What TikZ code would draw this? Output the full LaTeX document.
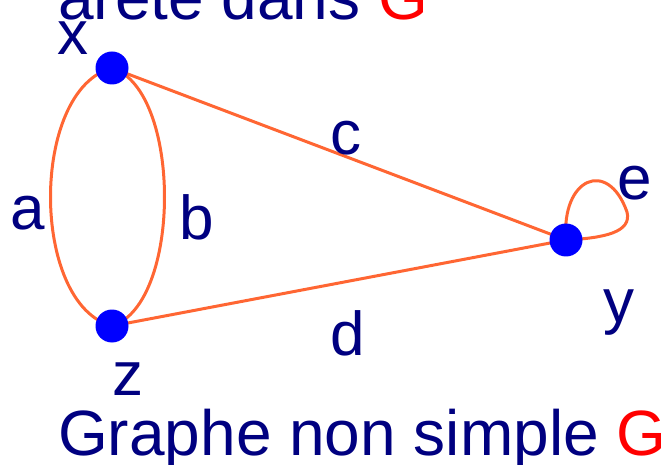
\documentclass[tikz,border=0pt]{standalone}
\usepackage{fontspec}
\setmainfont{Liberation Sans}
\definecolor{navy}{RGB}{0,0,128}
\definecolor{edgeor}{RGB}{255,102,51}
\definecolor{vblue}{RGB}{0,0,255}
\begin{document}
\begin{tikzpicture}[x=1pt,y=1pt,
  vertex/.style={circle,fill=vblue,inner sep=0pt,minimum size=33pt},
  edgeline/.style={draw=edgeor,line width=3pt},
  lab/.style={text=navy,inner sep=0pt,anchor=base,font=\fontsize{62}{70}\selectfont},
  bigtext/.style={text=navy,inner sep=0pt,anchor=base west,font=\fontsize{64}{72}\selectfont}]
\useasboundingbox (0,0) rectangle (664,464);
\coordinate (X) at (112,396);
\coordinate (Z) at (112,138);
\coordinate (Y) at (566,224);
% edges
\draw[edgeline] (X) .. controls (30,374) and (30,160) .. (Z);
\draw[edgeline] (X) .. controls (182,374) and (182,160) .. (Z);
\draw[edgeline] (X) -- (Y);
\draw[edgeline] (Z) -- (Y);
\draw[edgeline] (Y) .. controls (561,286) and (608,306) .. (627,252)
  .. controls (632,232) and (605,226) .. (Y);
% vertices
\node[vertex] (x) at (X) {};
\node[vertex] (z) at (Z) {};
\node[vertex] (y) at (Y) {};
% labels
\node[lab] (lx) at (73,409) {x};
\node[lab] (lz) at (128,69) {z};
\node[lab] (ly) at (619,142) {y};
\node[lab] (la) at (28,234) {a};
\node[lab] (lb) at (197,224) {b};
\node[lab] (lc) at (346,309) {c};
\node[lab] (ld) at (348,109) {d};
\node[lab] (le) at (635,264) {e};
\node[bigtext] (top) at (58,444) {arête dans \textcolor{red}{G}};
\node[bigtext] (bottom) at (58,9) {Graphe non simple \textcolor{red}{G}};
\end{tikzpicture}
\end{document}
